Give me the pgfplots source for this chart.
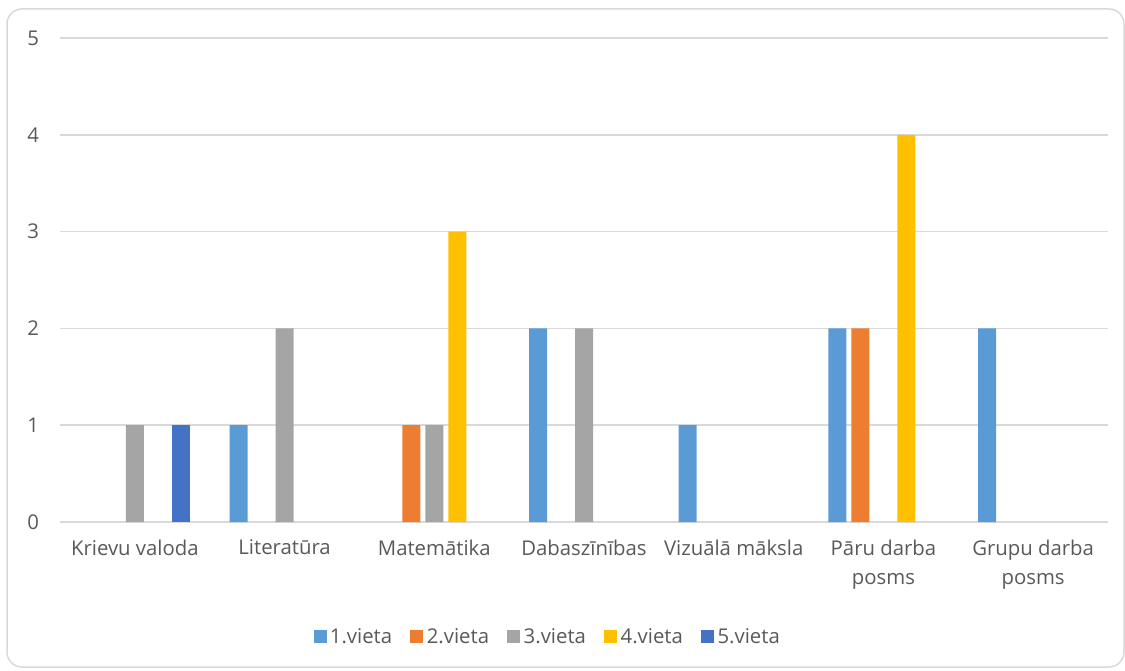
\documentclass[border=0pt]{standalone}
\usepackage{fontspec}
\setmainfont{Open Sans}
\usepackage{pgfplots}
\pgfplotsset{compat=1.18}
\definecolor{c1}{HTML}{5B9BD5}
\definecolor{c2}{HTML}{ED7D31}
\definecolor{c3}{HTML}{A5A5A5}
\definecolor{c4}{HTML}{FFC000}
\definecolor{c5}{HTML}{4472C4}
\definecolor{txt}{HTML}{595959}
\definecolor{gridc}{HTML}{D9D9D9}
\begin{document}
\begin{tikzpicture}
\useasboundingbox (-36pt,-88.8pt) rectangle (639pt,313.2pt);
\draw[gridc,line width=0.9pt,rounded corners=9pt] (-31.8pt,-87pt) rectangle (638.4pt,307.8pt);
\begin{axis}[
  at={(0,0)},anchor=south west,
  scale only axis,width=628.8pt,height=290.4pt,
  ybar=3pt,bar width=10.8pt,
  xmin=-0.5,xmax=6.5,ymin=0,ymax=5,
  y filter/.expression={y==0 ? nan : y},unbounded coords=discard,
  xtick={0,...,6},ytick={0,1,2,3,4,5},
  xticklabels={Krievu valoda,Literatūra,Matemātika,Dabaszīnības,Vizuālā māksla,Pāru darba\\posms,Grupu darba\\posms},
  xticklabel style={align=center,font=\fontsize{12.2}{17.4}\selectfont,text=txt,yshift=-7pt},
  yticklabel style={font=\fontsize{12.2}{14}\selectfont,text=txt,xshift=-9pt},
  /pgf/number format/assume math mode=true,
  major tick length=0pt,
  axis line style={draw=none},
  ymajorgrids,major grid style={gridc,line width=1pt},
  legend columns=5,
  legend style={at={(0.4660,-0.2376)},anchor=center,draw=none,fill=none,
    font=\fontsize{12.2}{14}\selectfont,text=txt,
    /tikz/every even column/.append style={column sep=9pt}},
  legend image code/.code={\fill[#1] (0pt,-3.9pt) rectangle (7.8pt,3.9pt);},
]
\addplot[fill=c1,draw=none] coordinates {(0,0) (1,1) (2,0) (3,2) (4,1) (5,2) (6,2)};
\addplot[fill=c2,draw=none] coordinates {(0,0) (1,0) (2,1) (3,0) (4,0) (5,2) (6,0)};
\addplot[fill=c3,draw=none] coordinates {(0,1) (1,2) (2,1) (3,2) (4,0) (5,0) (6,0)};
\addplot[fill=c4,draw=none] coordinates {(0,0) (1,0) (2,3) (3,0) (4,0) (5,4) (6,0)};
\addplot[fill=c5,draw=none] coordinates {(0,1) (1,0) (2,0) (3,0) (4,0) (5,0) (6,0)};
\legend{1.vieta,2.vieta,3.vieta,4.vieta,5.vieta}
\end{axis}
\end{tikzpicture}
\end{document}
